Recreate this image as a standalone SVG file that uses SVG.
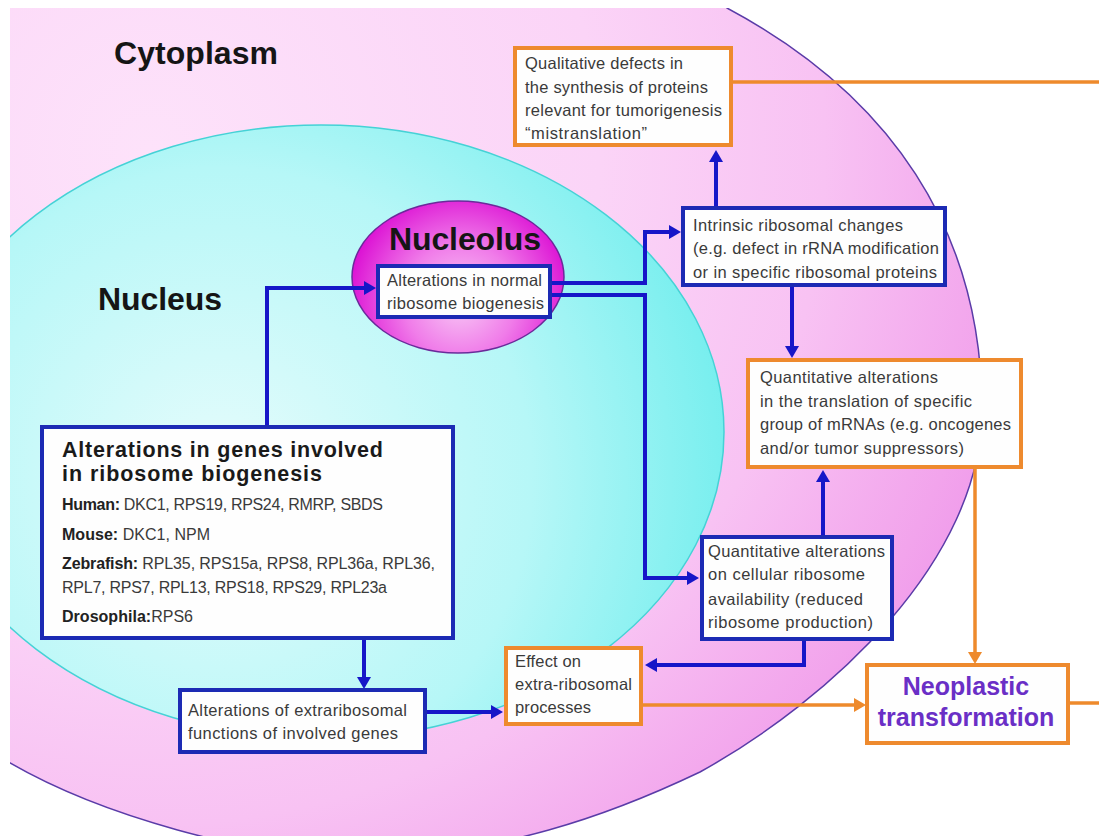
<svg xmlns="http://www.w3.org/2000/svg" width="1099" height="836" viewBox="0 0 1099 836">
<defs>
<clipPath id="frame"><rect x="10" y="8" width="1089" height="828"/></clipPath>
<radialGradient id="gPink" gradientUnits="userSpaceOnUse" cx="150" cy="150" r="900">
<stop offset="0" stop-color="#fde2fa"/><stop offset="0.5" stop-color="#fbd4f7"/><stop offset="0.75" stop-color="#f8c2f3"/><stop offset="0.95" stop-color="#f2a4ec"/><stop offset="1" stop-color="#f09ceb"/>
</radialGradient>
<radialGradient id="gCyan" gradientUnits="userSpaceOnUse" cx="220" cy="480" r="520">
<stop offset="0" stop-color="#e6fcfc"/><stop offset="0.6" stop-color="#b6f7f7"/><stop offset="1" stop-color="#74eeee"/>
</radialGradient>
<radialGradient id="gNuc" gradientUnits="userSpaceOnUse" cx="460" cy="300" r="112">
<stop offset="0" stop-color="#f8ccf6"/><stop offset="0.5" stop-color="#f07ce9"/><stop offset="1" stop-color="#dc12d4"/>
</radialGradient>
<marker id="ab" viewBox="0 0 12 14" markerWidth="12" markerHeight="14" refX="3" refY="7" orient="auto" markerUnits="userSpaceOnUse"><path d="M0,0 L12,7 L0,14 Z" fill="#1616c8"/></marker>
<marker id="ao" viewBox="0 0 12 14" markerWidth="12" markerHeight="14" refX="3" refY="7" orient="auto" markerUnits="userSpaceOnUse"><path d="M0,0 L12,7 L0,14 Z" fill="#ee8a2c"/></marker>
<style>
.t{font-family:"Liberation Sans",Arial,sans-serif;font-size:16.5px;fill:#3a3a3a}
.g{font-size:16px}
.b{font-weight:bold;fill:#222}
.h{font-family:"Liberation Sans",Arial,sans-serif;font-weight:bold;font-size:32px;fill:#151515}
.bt{font-family:"Liberation Sans",Arial,sans-serif;font-weight:bold;font-size:21.5px;fill:#1a1a1a}
.neo{font-family:"Liberation Sans",Arial,sans-serif;font-weight:bold;font-size:25px;fill:#6a2fc6;text-anchor:middle}
.bb{fill:#fefefe;stroke:#1c2ab4;stroke-width:4}
.ob{fill:#fefefe;stroke:#ee8a2e;stroke-width:4}
.cb{fill:none;stroke:#1616c8;stroke-width:4}
.co{fill:none;stroke:#ee8a2c;stroke-width:3.5}
</style>
</defs>
<rect width="1099" height="836" fill="#ffffff"/>
<g id="cytoplasm" clip-path="url(#frame)">
<path d="M727,8 C890,95 982,230 982,410 C982,560 830,700 700,772 C610,815 500,855 360,858 C250,858 100,815 10,763 L-60,700 L-60,-60 L727,-60 Z" fill="url(#gPink)" stroke="#5a3ca8" stroke-width="1.5"/>
<text class="h" x="114" y="64" textLength="164">Cytoplasm</text>
</g>
<g id="nucleus" clip-path="url(#frame)">
<ellipse cx="321" cy="432" rx="403" ry="307" fill="url(#gCyan)" stroke="#45d2d6" stroke-width="1.5"/>
<text class="h" x="98" y="310" textLength="124">Nucleus</text>
</g>
<g id="nucleolus">
<ellipse cx="458" cy="277" rx="106" ry="76" fill="url(#gNuc)" stroke="#6b2a9a" stroke-width="1.5"/>
<text class="h" x="389" y="250" textLength="152" fill="#1a1030">Nucleolus</text>
</g>
<g id="connectors">
<path class="cb" d="M267,427 V288 H367" marker-end="url(#ab)"/>
<path class="cb" d="M550,283 H645 V232 H672" marker-end="url(#ab)"/>
<path class="cb" d="M550,295 H645 V578 H690" marker-end="url(#ab)"/>
<path class="cb" d="M716,208 V159" marker-end="url(#ab)"/>
<path class="cb" d="M792,285 V349" marker-end="url(#ab)"/>
<path class="cb" d="M823,537 V479" marker-end="url(#ab)"/>
<path class="cb" d="M804,639 V665 H654" marker-end="url(#ab)"/>
<path class="cb" d="M364,638 V680" marker-end="url(#ab)"/>
<path class="cb" d="M425,712 H494" marker-end="url(#ab)"/>
<path class="co" d="M731,82 H1099"/>
<path class="co" d="M1099,703 H1061" marker-end="url(#ao)"/>
<path class="co" d="M975,467 V655" marker-end="url(#ao)"/>
<path class="co" d="M641,705 H857" marker-end="url(#ao)"/>
</g>
<g id="node-qualitative">
<rect class="ob" x="515" y="48" width="216" height="97"/>
<text class="t" x="525" y="69" textLength="158">Qualitative defects in</text>
<text class="t" x="525" y="93" textLength="183">the synthesis of proteins</text>
<text class="t" x="525" y="116" textLength="197">relevant for tumorigenesis</text>
<text class="t" x="525" y="139" textLength="122">“mistranslation”</text>
</g>
<g id="node-intrinsic">
<rect class="bb" x="683" y="208" width="262" height="77"/>
<text class="t" x="693" y="231" textLength="210">Intrinsic ribosomal changes</text>
<text class="t" x="693" y="254" textLength="246">(e.g. defect in rRNA modification</text>
<text class="t" x="693" y="278" textLength="244">or in specific ribosomal proteins</text>
</g>
<g id="node-nucleolus-box">
<rect class="bb" x="378" y="266" width="172" height="51"/>
<text class="t" x="387" y="286" textLength="155">Alterations in normal</text>
<text class="t" x="387" y="309" textLength="157">ribosome biogenesis</text>
</g>
<g id="node-quant-translation">
<rect class="ob" x="748" y="360" width="273" height="107"/>
<text class="t" x="760" y="383" textLength="178">Quantitative alterations</text>
<text class="t" x="760" y="407" textLength="212">in the translation of specific</text>
<text class="t" x="760" y="430" textLength="251">group of mRNAs (e.g. oncogenes</text>
<text class="t" x="760" y="454" textLength="204">and/or tumor suppressors)</text>
</g>
<g id="node-genes">
<rect class="bb" x="42" y="427" width="411" height="211"/>
<text class="bt" x="62" y="457" textLength="321">Alterations in genes involved</text>
<text class="bt" x="62" y="481" textLength="260">in ribosome biogenesis</text>
<text class="t g" x="62" y="510" textLength="321"><tspan class="b">Human:</tspan> DKC1, RPS19, RPS24, RMRP, SBDS</text>
<text class="t g" x="62" y="540" textLength="148"><tspan class="b">Mouse:</tspan> DKC1, NPM</text>
<text class="t g" x="62" y="569" textLength="373"><tspan class="b">Zebrafish:</tspan> RPL35, RPS15a, RPS8, RPL36a, RPL36,</text>
<text class="t g" x="62" y="593" textLength="325">RPL7, RPS7, RPL13, RPS18, RPS29, RPL23a</text>
<text class="t g" x="62" y="622" textLength="131"><tspan class="b">Drosophila:</tspan>RPS6</text>
</g>
<g id="node-availability">
<rect class="bb" x="702" y="537" width="190" height="102"/>
<text class="t" x="708" y="557" textLength="177">Quantitative alterations</text>
<text class="t" x="708" y="580" textLength="157">on cellular ribosome</text>
<text class="t" x="708" y="605" textLength="155">availability (reduced</text>
<text class="t" x="708" y="628" textLength="165">ribosome production)</text>
</g>
<g id="node-effect">
<rect class="ob" x="506" y="648" width="135" height="76"/>
<text class="t" x="515" y="667" textLength="66">Effect on</text>
<text class="t" x="515" y="690" textLength="117">extra-ribosomal</text>
<text class="t" x="515" y="713" textLength="76">processes</text>
</g>
<g id="node-extraribosomal">
<rect class="bb" x="180" y="690" width="245" height="62"/>
<text class="t" x="188" y="716" textLength="219">Alterations of extraribosomal</text>
<text class="t" x="188" y="739" textLength="210">functions of involved genes</text>
</g>
<g id="node-neoplastic">
<rect class="ob" x="867" y="665" width="201" height="78"/>
<text class="neo" x="966" y="695">Neoplastic</text>
<text class="neo" x="966" y="726">transformation</text>
</g>
</svg>
